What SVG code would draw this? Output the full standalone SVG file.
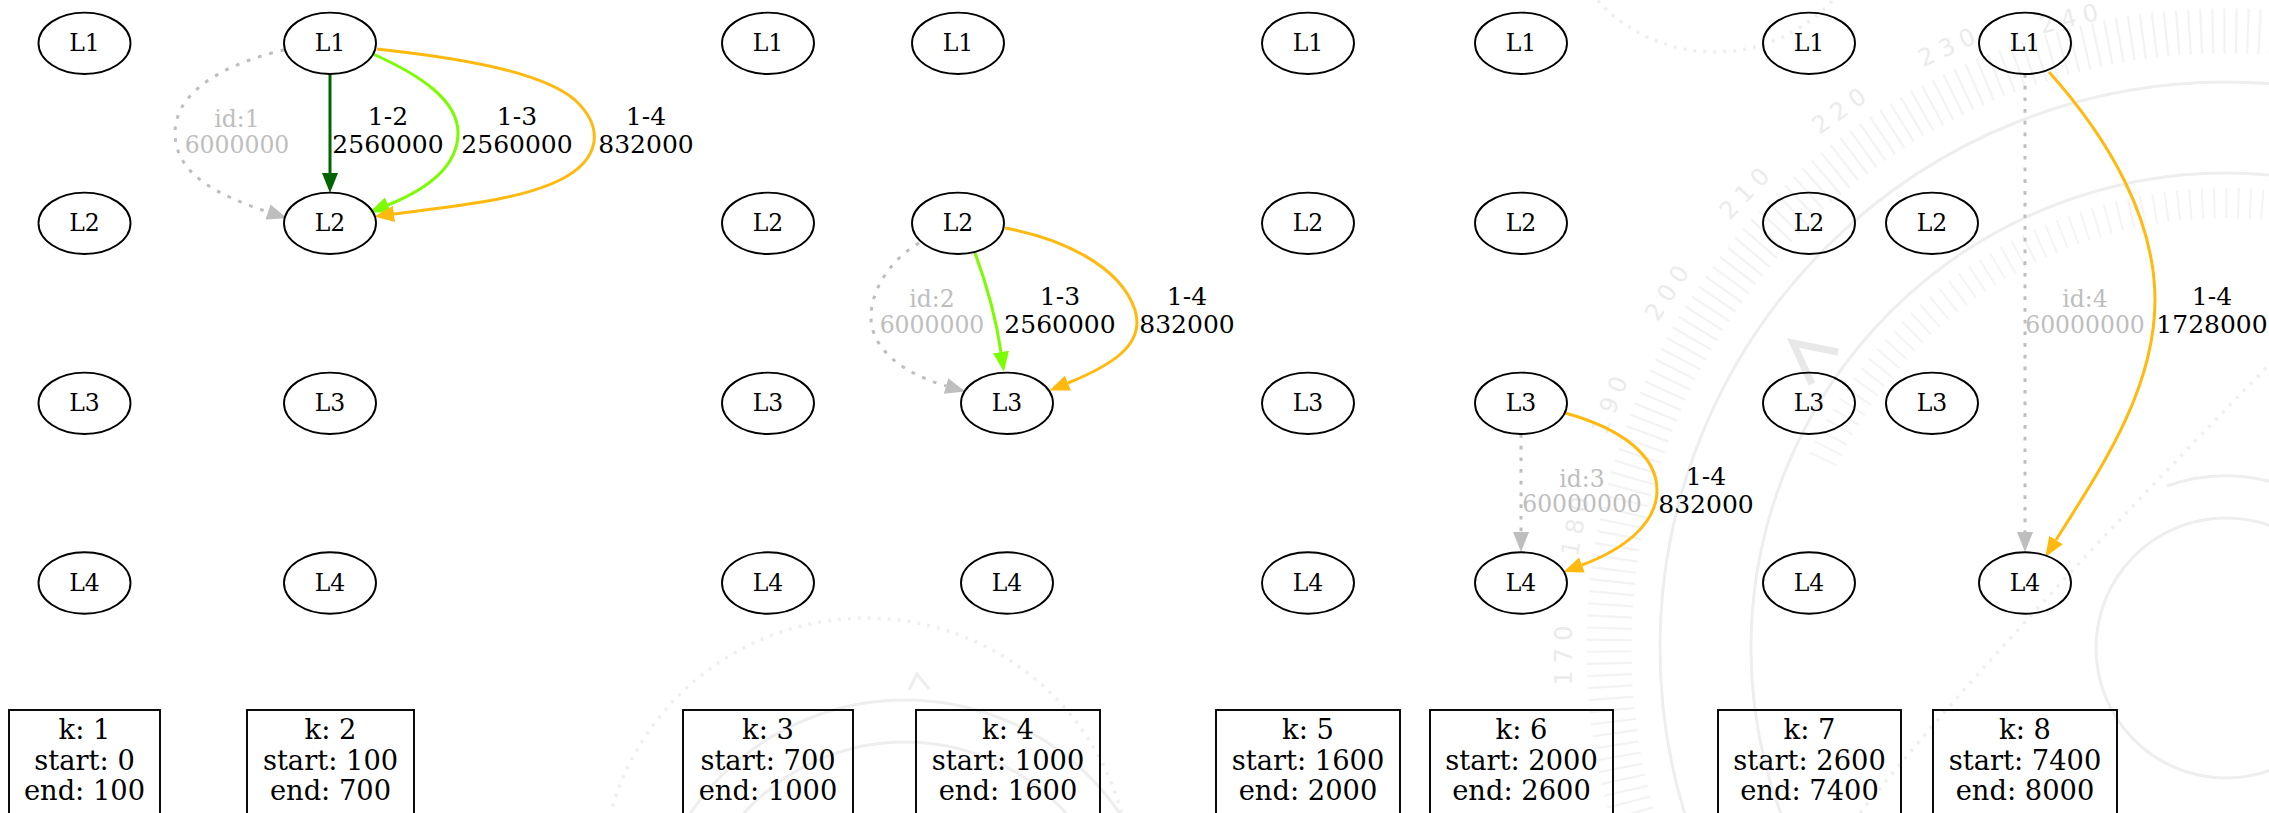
<svg xmlns="http://www.w3.org/2000/svg" width="2269" height="813" viewBox="0 0 2269 813">
  <style>
    text { font-family: "DejaVu Serif", "Liberation Serif", serif; text-anchor: middle; }
    .node ellipse { fill: none; stroke: #000; stroke-width: 1.9; }
    .node text { font-size: 23.5px; fill: #000; }
    .box rect { fill: none; stroke: #000; stroke-width: 1.9; }
    .box text { font-size: 27.3px; fill: #000; }
    .e { fill: none; stroke-width: 3; }
    .dk { stroke: #006400; }
    .lg { stroke: #7cfc00; }
    .or { stroke: #ffb90f; }
    .gy { stroke: #bebebe; stroke-dasharray: 3.7 8; }
    .lbl { font-size: 25px; fill: #000; }
    .lblg { font-size: 23.5px; fill: #bebebe; }
    .wm { fill: none; stroke: #eeeeee; stroke-width: 3; }
    .wmdot { fill: none; stroke: #efefef; stroke-width: 3.5; stroke-dasharray: 3 7; }
    .wmnum { font-family: "DejaVu Sans", sans-serif; font-size: 24px; fill: #ebebeb; letter-spacing: 7px; dominant-baseline: central; }
  </style>
  <defs>
    <marker id="ah-dk" markerUnits="userSpaceOnUse" markerWidth="22" markerHeight="18" viewBox="0 -9 22 18" refX="0" refY="0" orient="auto"><path d="M0,-8 L20,0 L0,8 z" fill="#006400"/></marker>
    <marker id="ah-lg" markerUnits="userSpaceOnUse" markerWidth="22" markerHeight="18" viewBox="0 -9 22 18" refX="0" refY="0" orient="auto"><path d="M0,-8 L20,0 L0,8 z" fill="#7cfc00"/></marker>
    <marker id="ah-or" markerUnits="userSpaceOnUse" markerWidth="22" markerHeight="18" viewBox="0 -9 22 18" refX="0" refY="0" orient="auto"><path d="M0,-8 L20,0 L0,8 z" fill="#ffb90f"/></marker>
    <marker id="ah-gy" markerUnits="userSpaceOnUse" markerWidth="22" markerHeight="18" viewBox="0 -9 22 18" refX="0" refY="0" orient="auto"><path d="M0,-8 L20,0 L0,8 z" fill="#bebebe"/></marker>
  </defs>

  <rect width="2269" height="813" fill="#ffffff"/>

  <!-- faint dial artwork behind the graph -->
  <g id="backdrop">
    <!-- lower dial -->
    <circle class="wmdot" cx="866" cy="883" r="265"/>
    <circle class="wm" cx="905" cy="960" r="260"/>
    <circle class="wm" cx="905" cy="960" r="218" stroke="#f2f2f2"/>
    <polyline class="wm" points="909,690 917,674 929,689" stroke="#ececec"/>
    <!-- right dial -->
    <circle class="wmdot" cx="1715" cy="-108" r="160"/>
    <path class="wmdot" d="M1860,813 Q1990,650 2269,365"/>
    <circle class="wm" cx="2226" cy="648" r="566"/>
    <circle class="wm" cx="2226" cy="648" r="475"/>
    <circle class="wm" cx="2226" cy="648" r="130" stroke="#e8e8e8" stroke-width="9"/>
    <path class="wm" d="M2167,486 A172,172 0 0 1 2312,499"/>
    <path d="M1646.2,859 A617,617 0 0 1 2385.7,52" fill="none" stroke="#f3f3f3" stroke-width="45" stroke-dasharray="2.2 9.5"/>
    <path d="M1822.7,459.9 A445,445 0 0 1 2378.2,229.8" fill="none" stroke="#f4f4f4" stroke-width="30" stroke-dasharray="2 10"/>
    <polyline points="1838,352 1793,343 1812,384" fill="none" stroke="#e8e8e8" stroke-width="7" stroke-linejoin="miter"/>
    <text class="wmnum" transform="translate(1564,652) rotate(-90)">170</text>
    <text class="wmnum" transform="translate(1576,523) rotate(-79.1)">180</text>
    <text class="wmnum" transform="translate(1611,402) rotate(-68.2)">190</text>
    <text class="wmnum" transform="translate(1669,290) rotate(-57.3)">200</text>
    <text class="wmnum" transform="translate(1747,191) rotate(-46.4)">210</text>
    <text class="wmnum" transform="translate(1842,109) rotate(-35.5)">220</text>
    <text class="wmnum" transform="translate(1950,46) rotate(-24.6)">230</text>
    <text class="wmnum" transform="translate(2072,18) rotate(-13.7)">240</text>
  </g>

  <!-- connectors and their labels -->
  <g id="edges">
    <!-- k2: L1 -> L2 -->
    <path class="e gy" d="M284,50 C240,60 175,85 175,133 C175,175 220,196 268,212" marker-end="url(#ah-gy)"/>
    <path class="e dk" d="M330,74 L330,173" marker-end="url(#ah-dk)"/>
    <path class="e lg" d="M373,54 C420,75 458,100 458,133 C458,165 430,188 388,205" marker-end="url(#ah-lg)"/>
    <path class="e or" d="M377,49 C450,57 540,70 575,100 C605,128 600,160 560,180 C520,200 455,206 394,214" marker-end="url(#ah-or)"/>
    <text class="lblg" x="237"><tspan x="237" y="127">id:1</tspan><tspan x="237" y="152.5">6000000</tspan></text>
    <text class="lbl" x="388"><tspan x="388" y="125">1-2</tspan><tspan x="388" y="153">2560000</tspan></text>
    <text class="lbl" x="517"><tspan x="517" y="125">1-3</tspan><tspan x="517" y="153">2560000</tspan></text>
    <text class="lbl" x="646"><tspan x="646" y="125">1-4</tspan><tspan x="646" y="153">832000</tspan></text>

    <!-- k4: L2 -> L3 -->
    <path class="e gy" d="M919,243 C890,260 871,290 871,317 C871,350 905,374 946,386" marker-end="url(#ah-gy)"/>
    <path class="e lg" d="M975,253 C985,280 996,318 1001,352" marker-end="url(#ah-lg)"/>
    <path class="e or" d="M1005,228 C1060,238 1120,265 1135,310 C1146,345 1110,366 1068,383" marker-end="url(#ah-or)"/>
    <text class="lblg" x="932"><tspan x="932" y="307">id:2</tspan><tspan x="932" y="332.5">6000000</tspan></text>
    <text class="lbl" x="1060"><tspan x="1060" y="305">1-3</tspan><tspan x="1060" y="333">2560000</tspan></text>
    <text class="lbl" x="1187"><tspan x="1187" y="305">1-4</tspan><tspan x="1187" y="333">832000</tspan></text>

    <!-- k6: L3 -> L4 -->
    <path class="e gy" d="M1521,434 L1521,532" marker-end="url(#ah-gy)"/>
    <path class="e or" d="M1565,413 C1620,428 1657,455 1657,490 C1657,525 1622,550 1582,565" marker-end="url(#ah-or)"/>
    <text class="lblg" x="1582"><tspan x="1582" y="487">id:3</tspan><tspan x="1582" y="512">60000000</tspan></text>
    <text class="lbl" x="1706"><tspan x="1706" y="485">1-4</tspan><tspan x="1706" y="513">832000</tspan></text>

    <!-- k8: L1 -> L4 -->
    <path class="e gy" d="M2025,74 L2025,532" marker-end="url(#ah-gy)"/>
    <path class="e or" d="M2049,72 C2110,140 2155,220 2155,300 C2155,390 2100,470 2056,540" marker-end="url(#ah-or)"/>
    <text class="lblg" x="2085"><tspan x="2085" y="307">id:4</tspan><tspan x="2085" y="332.5">60000000</tspan></text>
    <text class="lbl" x="2212"><tspan x="2212" y="305">1-4</tspan><tspan x="2212" y="333">1728000</tspan></text>
  </g>

  <!-- k1 -->
  <g id="k1-L1" class="node"><ellipse cx="84.5" cy="43.3" rx="46" ry="30.7"/><text x="84.5" y="50.8">L1</text></g>
  <g id="k1-L2" class="node"><ellipse cx="84.5" cy="223.3" rx="46" ry="30.7"/><text x="84.5" y="230.8">L2</text></g>
  <g id="k1-L3" class="node"><ellipse cx="84.5" cy="403.3" rx="46" ry="30.7"/><text x="84.5" y="410.8">L3</text></g>
  <g id="k1-L4" class="node"><ellipse cx="84.5" cy="583" rx="46" ry="30.7"/><text x="84.5" y="590.5">L4</text></g>
  <g id="k1-info" class="box"><rect x="9" y="710" width="151" height="120"/><text x="84.5" y="739">k: 1</text><text x="84.5" y="769.5">start: 0</text><text x="84.5" y="800">end: 100</text></g>

  <!-- k2 -->
  <g id="k2-L1" class="node"><ellipse cx="330" cy="43.3" rx="46" ry="30.7"/><text x="330" y="50.8">L1</text></g>
  <g id="k2-L2" class="node"><ellipse cx="330" cy="223.3" rx="46" ry="30.7"/><text x="330" y="230.8">L2</text></g>
  <g id="k2-L3" class="node"><ellipse cx="330" cy="403.3" rx="46" ry="30.7"/><text x="330" y="410.8">L3</text></g>
  <g id="k2-L4" class="node"><ellipse cx="330" cy="583" rx="46" ry="30.7"/><text x="330" y="590.5">L4</text></g>
  <g id="k2-info" class="box"><rect x="247" y="710" width="167" height="120"/><text x="330.5" y="739">k: 2</text><text x="330.5" y="769.5">start: 100</text><text x="330.5" y="800">end: 700</text></g>

  <!-- k3 -->
  <g id="k3-L1" class="node"><ellipse cx="768" cy="43.3" rx="46" ry="30.7"/><text x="768" y="50.8">L1</text></g>
  <g id="k3-L2" class="node"><ellipse cx="768" cy="223.3" rx="46" ry="30.7"/><text x="768" y="230.8">L2</text></g>
  <g id="k3-L3" class="node"><ellipse cx="768" cy="403.3" rx="46" ry="30.7"/><text x="768" y="410.8">L3</text></g>
  <g id="k3-L4" class="node"><ellipse cx="768" cy="583" rx="46" ry="30.7"/><text x="768" y="590.5">L4</text></g>
  <g id="k3-info" class="box"><rect x="683" y="710" width="170" height="120"/><text x="768" y="739">k: 3</text><text x="768" y="769.5">start: 700</text><text x="768" y="800">end: 1000</text></g>

  <!-- k4 -->
  <g id="k4-L1" class="node"><ellipse cx="958" cy="43.3" rx="46" ry="30.7"/><text x="958" y="50.8">L1</text></g>
  <g id="k4-L2" class="node"><ellipse cx="958" cy="223.3" rx="46" ry="30.7"/><text x="958" y="230.8">L2</text></g>
  <g id="k4-L3" class="node"><ellipse cx="1007" cy="403.3" rx="46" ry="30.7"/><text x="1007" y="410.8">L3</text></g>
  <g id="k4-L4" class="node"><ellipse cx="1007" cy="583" rx="46" ry="30.7"/><text x="1007" y="590.5">L4</text></g>
  <g id="k4-info" class="box"><rect x="916" y="710" width="184" height="120"/><text x="1008" y="739">k: 4</text><text x="1008" y="769.5">start: 1000</text><text x="1008" y="800">end: 1600</text></g>

  <!-- k5 -->
  <g id="k5-L1" class="node"><ellipse cx="1308" cy="43.3" rx="46" ry="30.7"/><text x="1308" y="50.8">L1</text></g>
  <g id="k5-L2" class="node"><ellipse cx="1308" cy="223.3" rx="46" ry="30.7"/><text x="1308" y="230.8">L2</text></g>
  <g id="k5-L3" class="node"><ellipse cx="1308" cy="403.3" rx="46" ry="30.7"/><text x="1308" y="410.8">L3</text></g>
  <g id="k5-L4" class="node"><ellipse cx="1308" cy="583" rx="46" ry="30.7"/><text x="1308" y="590.5">L4</text></g>
  <g id="k5-info" class="box"><rect x="1216" y="710" width="184" height="120"/><text x="1308" y="739">k: 5</text><text x="1308" y="769.5">start: 1600</text><text x="1308" y="800">end: 2000</text></g>

  <!-- k6 -->
  <g id="k6-L1" class="node"><ellipse cx="1521" cy="43.3" rx="46" ry="30.7"/><text x="1521" y="50.8">L1</text></g>
  <g id="k6-L2" class="node"><ellipse cx="1521" cy="223.3" rx="46" ry="30.7"/><text x="1521" y="230.8">L2</text></g>
  <g id="k6-L3" class="node"><ellipse cx="1521" cy="403.3" rx="46" ry="30.7"/><text x="1521" y="410.8">L3</text></g>
  <g id="k6-L4" class="node"><ellipse cx="1521" cy="583" rx="46" ry="30.7"/><text x="1521" y="590.5">L4</text></g>
  <g id="k6-info" class="box"><rect x="1430" y="710" width="183" height="120"/><text x="1521.5" y="739">k: 6</text><text x="1521.5" y="769.5">start: 2000</text><text x="1521.5" y="800">end: 2600</text></g>

  <!-- k7 -->
  <g id="k7-L1" class="node"><ellipse cx="1809" cy="43.3" rx="46" ry="30.7"/><text x="1809" y="50.8">L1</text></g>
  <g id="k7-L2" class="node"><ellipse cx="1809" cy="223.3" rx="46" ry="30.7"/><text x="1809" y="230.8">L2</text></g>
  <g id="k7-L3" class="node"><ellipse cx="1809" cy="403.3" rx="46" ry="30.7"/><text x="1809" y="410.8">L3</text></g>
  <g id="k7-L4" class="node"><ellipse cx="1809" cy="583" rx="46" ry="30.7"/><text x="1809" y="590.5">L4</text></g>
  <g id="k7-info" class="box"><rect x="1718" y="710" width="183" height="120"/><text x="1809.5" y="739">k: 7</text><text x="1809.5" y="769.5">start: 2600</text><text x="1809.5" y="800">end: 7400</text></g>

  <!-- k8 -->
  <g id="k8-L1" class="node"><ellipse cx="2025" cy="43.3" rx="46" ry="30.7"/><text x="2025" y="50.8">L1</text></g>
  <g id="k8-L2" class="node"><ellipse cx="1932" cy="223.3" rx="46" ry="30.7"/><text x="1932" y="230.8">L2</text></g>
  <g id="k8-L3" class="node"><ellipse cx="1932" cy="403.3" rx="46" ry="30.7"/><text x="1932" y="410.8">L3</text></g>
  <g id="k8-L4" class="node"><ellipse cx="2025" cy="583" rx="46" ry="30.7"/><text x="2025" y="590.5">L4</text></g>
  <g id="k8-info" class="box"><rect x="1933" y="710" width="184" height="120"/><text x="2025" y="739">k: 8</text><text x="2025" y="769.5">start: 7400</text><text x="2025" y="800">end: 8000</text></g>
</svg>
